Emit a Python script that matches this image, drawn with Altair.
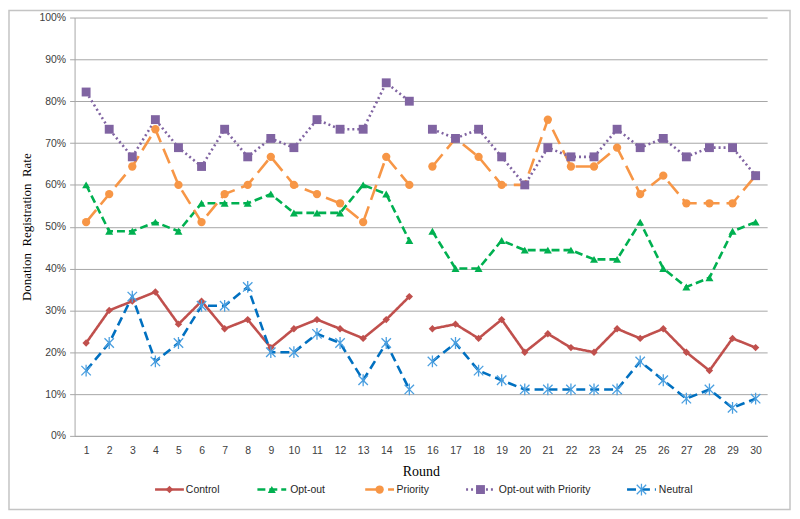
import altair as alt
import pandas as pd

# ---------------- data ----------------
rounds = list(range(1, 31))
series_names = ["Control", "Opt-out", "Priority", "Opt-out with Priority", "Neutral"]

control = [22.2, 30.0, 32.2, 34.4, 26.7, 32.2, 25.6, 27.8, 21.1, 25.6, 27.8, 25.6, 23.3, 27.8, 33.3,
           25.6, 26.7, 23.3, 27.8, 20.0, 24.4, 21.1, 20.0, 25.6, 23.3, 25.6, 20.0, 15.6, 23.3, 21.1]
opt_out = [60.0, 48.9, 48.9, 51.1, 48.9, 55.6, 55.6, 55.6, 57.8, 53.3, 53.3, 53.3, 60.0, 57.8, 46.7,
           48.9, 40.0, 40.0, 46.7, 44.4, 44.4, 44.4, 42.2, 42.2, 51.1, 40.0, 35.6, 37.8, 48.9, 51.1]
priority = [51.1, 57.8, 64.4, 73.3, 60.0, 51.1, 57.8, 60.0, 66.7, 60.0, 57.8, 55.6, 51.1, 66.7, 60.0,
            64.4, 71.1, 66.7, 60.0, 60.0, 75.6, 64.4, 64.4, 68.9, 57.8, 62.2, 55.6, 55.6, 55.6, 62.2]
opt_out_priority = [82.2, 73.3, 66.7, 75.6, 68.9, 64.4, 73.3, 66.7, 71.1, 68.9, 75.6, 73.3, 73.3, 84.4, 80.0,
                    73.3, 71.1, 73.3, 66.7, 60.0, 68.9, 66.7, 66.7, 73.3, 68.9, 71.1, 66.7, 68.9, 68.9, 62.2]
neutral = [15.6, 22.2, 33.3, 17.8, 22.2, 31.1, 31.1, 35.6, 20.0, 20.0, 24.4, 22.2, 13.3, 22.2, 11.1,
           17.8, 22.2, 15.6, 13.3, 11.1, 11.1, 11.1, 11.1, 11.1, 17.8, 13.3, 8.9, 11.1, 6.7, 8.9]
y_ticks = [i / 10 for i in range(11)]

# ---------------- styles ----------------
series_colors = ["#C0504D", "#00B050", "#F79646", "#8064A2", "#0070C0"]
series_dashes = [[1, 0], [8, 4], [16, 7], [2, 3], [9, 5]]
ASTERISK = "M-1,-1L1,1M-1,1L1,-1M0,-1.25L0,1.25"
series_shapes = ["diamond", "triangle-up", "circle", "square", ASTERISK]
series_sizes = [55, 65, 70, 80, 90]
neutral_marker_color = "#4A9FE0"
grid_gray = "#A6A6A6"
label_font = "Liberation Sans"
serif_font = "Liberation Serif"
legend_font = "Liberation Sans"

# legend layout (pixels from plot-area left edge)
legend_line_center = [95.5, 198.5, 307, 408.5, 570.5]
legend_text_x = [112, 217, 324, 427, 588]
legend_y = 475

all_values = [control, opt_out, priority, opt_out_priority, neutral]
rows = []
for name, vals in zip(series_names, all_values):
    for r, v in zip(rounds, vals):
        rows.append({"Round": r, "series": name, "rate": v / 100.0,
                     "segment": 1 if r <= 15 else 2})
df = pd.DataFrame(rows)

legend_df = pd.DataFrame({"series": series_names, "c": legend_line_center, "tx": legend_text_x})

color_scale = alt.Scale(domain=series_names, range=series_colors)
dash_scale = alt.Scale(domain=series_names, range=series_dashes)

x_main = alt.X("Round:O", scale=alt.Scale(type="point", padding=0.5, domain=rounds), axis=None)
x_axis = alt.X(
    "Round:O",
    scale=alt.Scale(type="point", padding=0.5, domain=rounds),
    axis=alt.Axis(title="Round", labelAngle=0, ticks=False, grid=False, domain=True,
                  domainColor=grid_gray, labelPadding=10, labelFont=label_font, labelFontSize=10.5,
                  labelColor="#404040", titleFont=serif_font, titleFontSize=14,
                  titleFontWeight="normal", titleColor="#000000", titlePadding=8),
)
y_enc = alt.Y(
    "rate:Q",
    scale=alt.Scale(domain=[0, 1], nice=False),
    axis=alt.Axis(values=y_ticks, format=".0%", grid=True, gridColor=grid_gray, gridWidth=1,
                  domainColor=grid_gray, tickColor=grid_gray, tickSize=5,
                  labelFont=label_font, labelFontSize=10.5, labelColor="#404040", labelPadding=4,
                  title="Donation\u00a0\u00a0Registration\u00a0\u00a0Rate",
                  titleFont=serif_font, titleFontSize=13, titleFontWeight="normal",
                  titleColor="#000000", titlePadding=5),
)

base = alt.Chart(df)

lines = base.mark_line(strokeWidth=2.6).encode(
    x=x_axis,
    y=y_enc,
    color=alt.Color("series:N", scale=color_scale, legend=None),
    strokeDash=alt.StrokeDash("series:N", scale=dash_scale, legend=None),
    detail="segment:N",
)

layers = [lines]
for i, name in enumerate(series_names):
    sub = alt.Chart(df[df["series"] == name])
    if name == "Neutral":
        mk = sub.mark_point(shape=series_shapes[i], filled=False, size=series_sizes[i],
                            strokeWidth=1.3, color=neutral_marker_color, opacity=1)
    else:
        mk = sub.mark_point(shape=series_shapes[i], filled=True, size=series_sizes[i],
                            color=series_colors[i], opacity=1)
    layers.append(mk.encode(x=x_main, y=alt.Y("rate:Q", scale=alt.Scale(domain=[0, 1], nice=False))))

# ---------- legend (drawn as marks below the plot) ----------
lx = alt.Scale(domain=[0, 697], nice=False, zero=False)
leg_base = alt.Chart(legend_df)
leg_lines = leg_base.mark_rule(strokeWidth=2.5).transform_calculate(
    x1="datum.c - 14.5", x2="datum.c + 14.5"
).encode(
    x=alt.X("x1:Q", scale=lx, axis=None),
    x2="x2:Q",
    y=alt.value(legend_y),
    color=alt.Color("series:N", scale=color_scale, legend=None),
    strokeDash=alt.StrokeDash("series:N", scale=dash_scale, legend=None),
)
layers.append(leg_lines)
for i, name in enumerate(series_names):
    sub = alt.Chart(legend_df[legend_df["series"] == name])
    if name == "Neutral":
        mk = sub.mark_point(shape=series_shapes[i], filled=False, size=series_sizes[i],
                            strokeWidth=1.3, color=neutral_marker_color, opacity=1)
    else:
        mk = sub.mark_point(shape=series_shapes[i], filled=True, size=series_sizes[i],
                            color=series_colors[i], opacity=1)
    layers.append(mk.encode(x=alt.X("c:Q", scale=lx, axis=None), y=alt.value(legend_y)))

leg_text = leg_base.mark_text(align="left", baseline="middle", font=legend_font,
                              fontSize=10.5, color="#262626").encode(
    x=alt.X("tx:Q", scale=lx, axis=None),
    y=alt.value(legend_y),
    text="series:N",
)
layers.append(leg_text)

frame = alt.Chart(pd.DataFrame({"k": [0]})).mark_rect(
    fill="transparent", stroke="#C4C4C4", strokeWidth=1.5
).encode(x=alt.value(-66), x2=alt.value(720), y=alt.value(-7), y2=alt.value(495))
layers.append(frame)

chart = alt.layer(*layers).resolve_scale(x="independent").properties(
    width=697,
    height=421,
    autosize=alt.AutoSizeParams(type="none"),
    padding={"left": 67, "top": 8, "right": 25, "bottom": 76},
    background="white",
).configure_view(stroke=None)

chart.save("out.html", embed_options={"renderer": "svg", "actions": False})
